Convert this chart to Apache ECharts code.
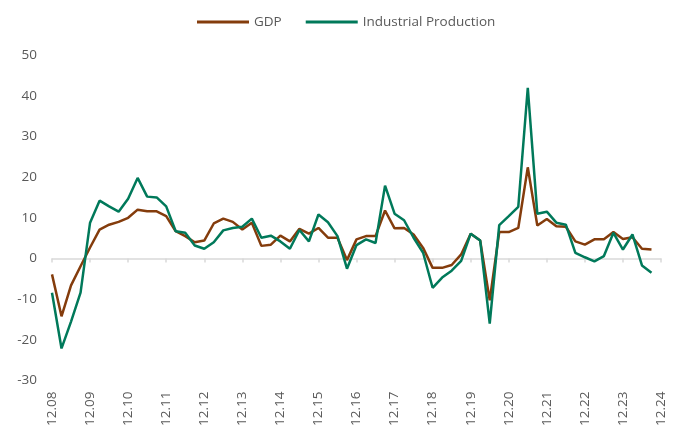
<!DOCTYPE html>
<html>
<head>
<meta charset="utf-8">
<script src="https://cdn.jsdelivr.net/npm/echarts@6/dist/echarts.min.js"></script>
<style>
    html, body { margin: 0; padding: 0; background: #fff; }
    #chart { width: 673px; height: 429px; }
</style>
</head>
<body>
<div id="chart"></div>
<script>
    // quarters, 12.08 .. 12.24
    var quarters = [
        "12.08",
        "03.09", "06.09", "09.09", "12.09",
        "03.10", "06.10", "09.10", "12.10",
        "03.11", "06.11", "09.11", "12.11",
        "03.12", "06.12", "09.12", "12.12",
        "03.13", "06.13", "09.13", "12.13",
        "03.14", "06.14", "09.14", "12.14",
        "03.15", "06.15", "09.15", "12.15",
        "03.16", "06.16", "09.16", "12.16",
        "03.17", "06.17", "09.17", "12.17",
        "03.18", "06.18", "09.18", "12.18",
        "03.19", "06.19", "09.19", "12.19",
        "03.20", "06.20", "09.20", "12.20",
        "03.21", "06.21", "09.21", "12.21",
        "03.22", "06.22", "09.22", "12.22",
        "03.23", "06.23", "09.23", "12.23",
        "03.24", "06.24", "09.24", "12.24"
    ];

    var gdp = [
        -3.9, -14.2, -6.6, -1.9, 2.7, 7.1, 8.3, 9.0, 10.0, 12.0, 11.6, 11.6,
        10.4, 6.7, 5.5, 4.0, 4.4, 8.6, 9.8, 9.0, 7.1, 8.8, 3.1, 3.4,
        5.6, 4.2, 7.3, 6.1, 7.5, 5.1, 5.1, -0.4, 4.7, 5.5, 5.5, 11.8,
        7.4, 7.5, 5.9, 2.6, -2.3, -2.3, -1.6, 1.0, 6.1, 4.4, -10.3, 6.5,
        6.5, 7.5, 22.4, 8.1, 9.7, 7.9, 7.8, 4.2, 3.4, 4.7, 4.7, 6.5,
        4.8, 5.2, 2.4, 2.2
    ];

    var industrial = [
        -8.4, -22.1, -15.5, -8.4, 8.8, 14.2, 12.8, 11.5, 14.7, 19.8, 15.2, 15.0,
        12.8, 6.7, 6.3, 3.2, 2.4, 4.0, 6.9, 7.5, 7.8, 9.8, 5.1, 5.6,
        4.2, 2.4, 7.0, 4.2, 10.8, 8.9, 5.5, -2.5, 3.3, 4.7, 3.8, 17.9,
        11.0, 9.4, 5.1, 1.4, -7.2, -4.7, -3.0, -0.6, 6.1, 4.4, -16.0, 8.2,
        10.4, 12.7, 41.9, 11.0, 11.5, 8.8, 8.3, 1.4, 0.3, -0.7, 0.6, 6.3,
        2.2, 5.9, -1.7, -3.5
    ];

    var textColor = "#595959";
    var fontName = "Open Sans";

    var myChart = echarts.init(document.getElementById("chart"));
    var option = {
        animation: false,
        textStyle: { fontFamily: fontName },
        legend: {
            top: 10,
            left: 192,
            itemWidth: 52,
            itemHeight: 3,
            itemGap: 24,
            icon: "rect",
            textStyle: { color: textColor, fontSize: 13.5, fontFamily: fontName },
            data: ["GDP", "Industrial Production"]
        },
        grid: {
            left: 52,
            right: 12,
            top: 55,
            bottom: 48
        },
        xAxis: [
            {
                type: "category",
                data: quarters,
                boundaryGap: false,
                position: "bottom",
                axisLine: { onZero: true, lineStyle: { color: "#d9d9d9", width: 1.5 } },
                axisTick: { show: true, interval: 3, length: 4, lineStyle: { color: "#d9d9d9", width: 1.5 } },
                axisLabel: { show: false },
                splitLine: { show: false }
            },
            {
                type: "category",
                data: quarters,
                boundaryGap: false,
                position: "bottom",
                axisLine: { show: false, onZero: false },
                axisTick: { show: false },
                axisLabel: {
                    interval: 3,
                    rotate: 90,
                    margin: 11,
                    color: textColor,
                    fontSize: 13.5,
                    fontFamily: fontName
                },
                splitLine: { show: false }
            }
        ],
        yAxis: {
            type: "value",
            min: -30,
            max: 50,
            interval: 10,
            axisLine: { show: false },
            axisTick: { show: false },
            splitLine: { show: false },
            axisLabel: { color: textColor, fontSize: 13.5, margin: 15, fontFamily: fontName }
        },
        series: [
            {
                name: "GDP",
                type: "line",
                xAxisIndex: 0,
                data: gdp,
                symbol: "none",
                itemStyle: { color: "#843c0c" },
                lineStyle: { color: "#843c0c", width: 2.5 }
            },
            {
                name: "Industrial Production",
                type: "line",
                xAxisIndex: 0,
                data: industrial,
                symbol: "none",
                itemStyle: { color: "#00795a" },
                lineStyle: { color: "#00795a", width: 2.5 }
            }
        ]
    };
    myChart.setOption(option);
</script>
</body>
</html>
